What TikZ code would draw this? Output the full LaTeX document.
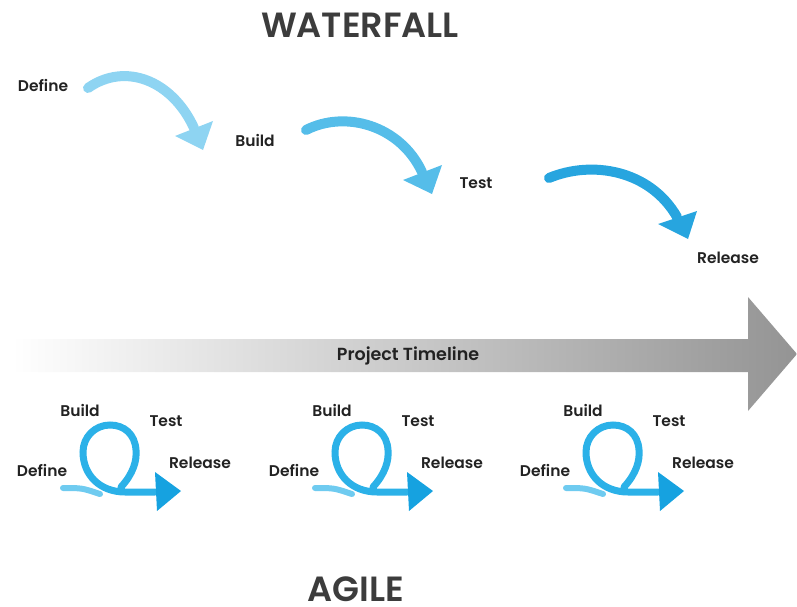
\documentclass[tikz,border=0pt]{standalone}
\usepackage{fontspec}
\setmainfont{Poppins}
\newfontfamily\medfont{Poppins Medium}
\newfontfamily\semifont{Poppins SemiBold}
\definecolor{wfa}{HTML}{8ED4F2}
\definecolor{wfb}{HTML}{55BDE9}
\definecolor{wfc}{HTML}{27A5DF}
\definecolor{agtail}{HTML}{6FCBF0}
\definecolor{agloop}{HTML}{2BB1E8}
\definecolor{aghead}{HTML}{16A2E0}
\definecolor{titlegray}{HTML}{3C3C3C}
\definecolor{lblgray}{HTML}{222222}
\begin{document}
\begin{tikzpicture}[x=1pt,y=-1pt,
  lbl/.style={font=\semifont\fontsize{15.5}{15.5}\selectfont, text=lblgray, inner sep=0pt},
  ttl/.style={font=\semifont\fontsize{35}{35}\selectfont, text=titlegray, inner sep=0pt},
  wfstroke/.style={line width=10pt, line cap=round},
  agstroke/.style={line width=7pt, line cap=round}]
\useasboundingbox (0,0) rectangle (797,607);
% titles
\node[ttl] (wf) at (360,25) {WATERFALL};
\node[ttl, anchor=base, text depth=0pt, text height=25pt] (ag) at (356,601) {AGILE};
% timeline
\shade[left color=white, right color=black!42]
  (12,339) -- (748,339) -- (748,297) -- (797,354) -- (748,411) -- (748,372) -- (12,372) -- cycle;
\node[lbl, font=\semifont\fontsize{17.5}{17.5}\selectfont] (tl) at (408,356) {Project Timeline};
% waterfall labels
\node[lbl] (wdef) at (43,85) {Define};
\node[lbl] (wbui) at (255,140) {Build};
\node[lbl] (wtes) at (476,183) {Test};
\node[lbl] (wrel) at (728,258) {Release};
% waterfall arrows
\coordinate (a1s) at (88,88);  \coordinate (a1e) at (194,128);
\coordinate (a2s) at (306,130); \coordinate (a2e) at (422,172);
\coordinate (a3s) at (549,178); \coordinate (a3e) at (677,217);
\draw[wfstroke, wfa] (a1s) .. controls (125,62) and (172,80) .. (a1e);
\fill[wfa] (175,136) -- (213,121) -- (203,150) -- cycle;
\draw[wfstroke, wfb] (a2s) .. controls (345,110) and (400,125) .. (a2e);
\fill[wfb] (403,180) -- (442,165) -- (432,194) -- cycle;
\draw[wfstroke, wfc] (a3s) .. controls (592,160) and (650,170) .. (a3e);
\fill[wfc] (658,224) -- (697,211) -- (688,239) -- cycle;
% agile loops
\foreach \o/\n in {0/a,252/b,503/c}{
  \begin{scope}[shift={(\o,0)}]
    \node[lbl] (def\n) at (42,470) {Define};
    \node[lbl] (bui\n) at (80,410) {Build};
    \node[lbl] (tes\n) at (166,421) {Test};
    \node[lbl] (rel\n) at (200,463) {Release};
    \coordinate (ts\n) at (63,488); \coordinate (te\n) at (100,494);
    \coordinate (ls\n) at (121,487); \coordinate (le\n) at (155,492);
    \draw[agstroke, agtail, line width=6pt] (ts\n) .. controls (82,488) .. (te\n);
    \draw[agstroke, agloop] (ls\n) .. controls (133,474) and (137,461) .. (136,450)
       .. controls (135,434) and (124,425) .. (110,425)
       .. controls (95,425) and (83,437) .. (83,452)
       .. controls (83,475) and (100,492) .. (125,492) -- (le\n);
    \fill[aghead] (155,472) -- (181,491) -- (157,511) -- cycle;
  \end{scope}
}
\end{tikzpicture}
\end{document}
